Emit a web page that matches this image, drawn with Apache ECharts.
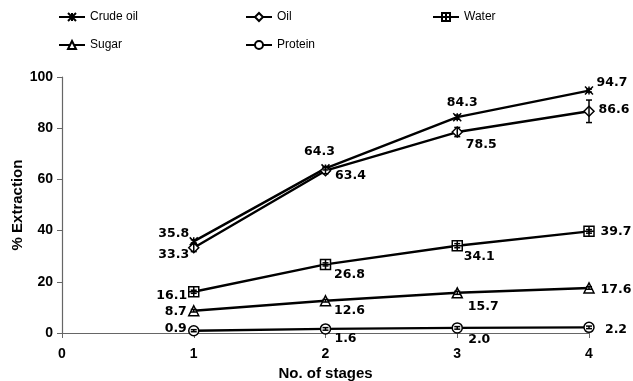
<!DOCTYPE html>
<html><head><meta charset="utf-8">
<script src="https://cdn.jsdelivr.net/npm/echarts@6/dist/echarts.min.js"></script>
<style>html,body{margin:0;padding:0;background:#fff}#c{width:633px;height:381px}</style>
</head><body><div id="c"></div>
<script>
const stages = [1, 2, 3, 4];
const crudeOil = [35.8, 64.3, 84.3, 94.7];
const oil = [33.3, 63.4, 78.5, 86.6];
const water = [16.1, 26.8, 34.1, 39.7];
const sugar = [8.7, 12.6, 15.7, 17.6];
const protein = [0.9, 1.6, 2.0, 2.2];
const crudeOilErr = [0.6, 0.6, 0.8, 0.6];
const oilErr = [1.5, 1.2, 1.8, 4.4];
const waterErr = [0.6, 0.6, 0.8, 0.7];
const sugarErr = [0.5, 0.5, 0.6, 0.5];
const proteinErr = [0.4, 0.5, 0.5, 0.5];
const yTicks = [0, 20, 40, 60, 80, 100];
const xTicks = [0, 1, 2, 3, 4];

// label placement (style)
const place = {
  crude: [[-20,-8],[-6,-17],[5,-14],[23,-8]],
  oil: [[-20,7],[25,5],[24,13],[25,-2]],
  water: [[-22,4],[24,10],[22,11],[27,0]],
  sugar: [[-18,1],[24,10],[26,14],[27,2]],
  protein: [[-18,-2],[20,10],[22,12],[27,2]]
};

const symbols = {
  crude: 'path://M0,0L10,10M10,0L0,10M5,0L5,10',
  oil: 'path://M5,0L10,5L5,10L0,5Z',
  water: 'path://M0,0L10,0L10,10L0,10ZM5,0L5,10M0,5L10,5',
  sugar: 'path://M5,0L10,10L0,10Z',
  protein: 'circle'
};

function mk(name, key, vals, symSize) {
  return {
    name: name, type: 'line', z: 3,
    data: vals.map((v, i) => ({
      value: [stages[i], v],
      label: { offset: place[key][i] }
    })),
    symbol: symbols[key], symbolSize: symSize,
    itemStyle: { color: '#fff', borderColor: '#000', borderWidth: 1.5 },
    lineStyle: { color: '#000', width: 2.4 },
    label: {
      show: true, position: 'inside', color: '#000',
      fontFamily: 'DejaVu Sans', fontWeight: 'bold', fontSize: 12.5,
      formatter: p => p.value[1].toFixed(1)
    },
    emphasis: { disabled: true }
  };
}

function errSeries(vals, errs) {
  return {
    type: 'custom', z: 4, silent: true,
    data: vals.map((v, i) => [stages[i], v - errs[i], v + errs[i]]),
    renderItem: (params, api) => {
      const lo = api.coord([api.value(0), api.value(1)]);
      const hi = api.coord([api.value(0), api.value(2)]);
      const w = 3;
      const st = { stroke: '#000', lineWidth: 1.5 };
      return { type: 'group', children: [
        { type: 'line', shape: { x1: lo[0], y1: lo[1], x2: hi[0], y2: hi[1] }, style: st },
        { type: 'line', shape: { x1: lo[0]-w, y1: lo[1], x2: lo[0]+w, y2: lo[1] }, style: st },
        { type: 'line', shape: { x1: hi[0]-w, y1: hi[1], x2: hi[0]+w, y2: hi[1] }, style: st }
      ]};
    }
  };
}

const legendText = { fontFamily: 'Liberation Sans', fontSize: 12, color: '#000' };
function lg(name, left, top) {
  return { data: [name], left: left, top: top, itemWidth: 26, itemHeight: 10, itemGap: 0,
    textStyle: legendText, selectedMode: false, padding: 0 };
}

const chart = echarts.init(document.getElementById('c'));
chart.setOption({
  animation: false,
  legend: [
    lg('Crude oil', 58, 11), lg('Oil', 245, 11), lg('Water', 432, 11),
    lg('Sugar', 58, 39), lg('Protein', 245, 39)
  ],
  grid: { left: 62, right: 44, top: 77, bottom: 48, containLabel: false, outerBoundsMode: 'none' },
  xAxis: {
    type: 'value', min: 0, max: 4, interval: 1,
    name: 'No. of stages', nameLocation: 'middle', nameGap: 33, nameMoveOverlap: false,
    nameTextStyle: { fontFamily: 'Liberation Sans', fontWeight: 'bold', fontSize: 15, color: '#000' },
    axisLine: { lineStyle: { color: '#666', width: 1.2 } },
    axisTick: { show: true, length: 5, lineStyle: { color: '#666' } },
    axisLabel: { fontFamily: 'Liberation Sans', fontWeight: 'bold', fontSize: 14, color: '#000', margin: 14,
      formatter: v => xTicks.includes(v) ? String(v) : '' },
    splitLine: { show: false }
  },
  yAxis: {
    type: 'value', min: 0, max: 100, interval: 20,
    name: '% Extraction', nameLocation: 'middle', nameGap: 37, nameMoveOverlap: false,
    nameTextStyle: { fontFamily: 'Liberation Sans', fontWeight: 'bold', fontSize: 15, color: '#000' },
    axisLine: { show: true, lineStyle: { color: '#666', width: 1.2 } },
    axisTick: { show: true, length: 5, lineStyle: { color: '#666' } },
    axisLabel: { fontFamily: 'Liberation Sans', fontWeight: 'bold', fontSize: 14, color: '#000', margin: 9,
      formatter: v => yTicks.includes(v) ? String(v) : '' },
    splitLine: { show: false }
  },
  series: [
    mk('Crude oil', 'crude', crudeOil, 8),
    mk('Oil', 'oil', oil, 10),
    mk('Water', 'water', water, 10),
    mk('Sugar', 'sugar', sugar, 10),
    mk('Protein', 'protein', protein, 10),
    errSeries(crudeOil, crudeOilErr),
    errSeries(oil, oilErr),
    errSeries(water, waterErr),
    errSeries(sugar, sugarErr),
    errSeries(protein, proteinErr)
  ]
});
</script></body></html>
